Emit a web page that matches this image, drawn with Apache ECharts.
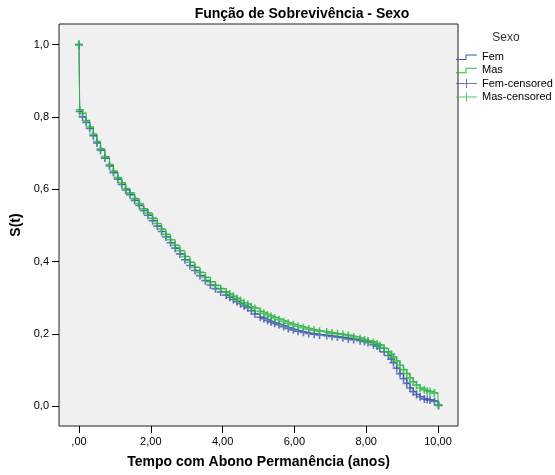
<!DOCTYPE html>
<html>
<head>
<meta charset="utf-8">
<script src="https://cdn.jsdelivr.net/npm/echarts@6/dist/echarts.min.js"></script>
<style>html,body{margin:0;padding:0;background:#fff;}#c{width:555px;height:475px;}</style>
</head>
<body>
<div id="c"></div>
<script>
var FONT = '"Liberation Sans", Arial, sans-serif';
var titleText = 'Função de Sobrevivência - Sexo';
var legendTitle = 'Sexo';
var xName = 'Tempo com Abono Permanência (anos)';
var yName = 'S(t)';
var seriesNames = ['Fem', 'Mas', 'Fem-censored', 'Mas-censored'];
var xTicks = [0, 2, 4, 6, 8, 10];
var yTicks = [0, 0.2, 0.4, 0.6, 0.8, 1.0];

// Fem (blue) Kaplan-Meier step points: time, survival
var femT = [0, 0.02, 0.10, 0.20, 0.30, 0.40, 0.50, 0.60, 0.72, 0.85, 0.96, 1.08, 1.19, 1.30, 1.42, 1.55, 1.68, 1.80, 1.92, 2.05, 2.18, 2.30, 2.42, 2.55, 2.68, 2.81, 2.95, 3.09, 3.23, 3.37, 3.52, 3.66, 3.80, 3.95, 4.10, 4.20, 4.30, 4.40, 4.50, 4.60, 4.70, 4.80, 4.90, 5.05, 5.15, 5.25, 5.35, 5.45, 5.57, 5.70, 5.83, 5.97, 6.10, 6.25, 6.40, 6.55, 6.70, 6.90, 7.05, 7.20, 7.35, 7.50, 7.65, 7.83, 7.95, 8.05, 8.20, 8.30, 8.38, 8.50, 8.62, 8.70, 8.76, 8.85, 8.94, 9.04, 9.13, 9.22, 9.31, 9.40, 9.50, 9.62, 9.70, 9.78, 9.90, 10.02];
var femS = [1.0, 0.815, 0.800, 0.785, 0.768, 0.748, 0.728, 0.708, 0.686, 0.664, 0.646, 0.628, 0.613, 0.598, 0.585, 0.569, 0.555, 0.541, 0.528, 0.513, 0.498, 0.483, 0.468, 0.452, 0.437, 0.421, 0.405, 0.389, 0.375, 0.361, 0.347, 0.335, 0.325, 0.316, 0.307, 0.301, 0.295, 0.289, 0.283, 0.277, 0.272, 0.264, 0.255, 0.246, 0.242, 0.237, 0.233, 0.229, 0.225, 0.220, 0.215, 0.211, 0.207, 0.204, 0.201, 0.199, 0.197, 0.195, 0.193, 0.191, 0.189, 0.186, 0.184, 0.181, 0.179, 0.176, 0.170, 0.166, 0.160, 0.150, 0.140, 0.130, 0.120, 0.105, 0.090, 0.076, 0.063, 0.050, 0.040, 0.032, 0.026, 0.020, 0.018, 0.017, 0.013, 0.002];

// Mas (green)
var masT = [0, 0.02, 0.10, 0.20, 0.30, 0.40, 0.50, 0.60, 0.72, 0.85, 0.96, 1.08, 1.19, 1.30, 1.42, 1.55, 1.68, 1.80, 1.92, 2.05, 2.18, 2.30, 2.42, 2.55, 2.68, 2.81, 2.95, 3.09, 3.23, 3.37, 3.52, 3.66, 3.80, 3.95, 4.10, 4.20, 4.30, 4.40, 4.50, 4.60, 4.70, 4.80, 4.90, 5.05, 5.15, 5.25, 5.35, 5.45, 5.57, 5.70, 5.83, 5.97, 6.10, 6.25, 6.40, 6.55, 6.70, 6.90, 7.05, 7.20, 7.35, 7.50, 7.65, 7.83, 7.95, 8.05, 8.20, 8.30, 8.38, 8.50, 8.62, 8.70, 8.76, 8.85, 8.94, 9.04, 9.13, 9.22, 9.31, 9.40, 9.50, 9.62, 9.70, 9.78, 9.90, 10.0];
var masS = [1.0, 0.820, 0.810, 0.790, 0.772, 0.752, 0.732, 0.712, 0.690, 0.668, 0.650, 0.632, 0.618, 0.602, 0.590, 0.574, 0.560, 0.546, 0.534, 0.520, 0.505, 0.490, 0.475, 0.460, 0.445, 0.430, 0.414, 0.398, 0.384, 0.370, 0.356, 0.344, 0.334, 0.325, 0.316, 0.310, 0.304, 0.298, 0.292, 0.286, 0.281, 0.275, 0.270, 0.262, 0.257, 0.252, 0.248, 0.244, 0.239, 0.234, 0.229, 0.225, 0.221, 0.217, 0.213, 0.210, 0.207, 0.205, 0.202, 0.200, 0.198, 0.195, 0.191, 0.187, 0.183, 0.180, 0.176, 0.172, 0.168, 0.160, 0.150, 0.143, 0.136, 0.125, 0.113, 0.101, 0.090, 0.078, 0.067, 0.058, 0.050, 0.045, 0.042, 0.040, 0.036, 0.004];

var BLUE = '#3E58AC', GREEN = '#2EB848';

function pairs(t, s) { return t.map(function (v, i) { return [v, s[i]]; }); }

var plusSym = 'path://M0,4H4V0H6V4H10V6H6V10H4V6H0Z';
var stepIcon = 'path://M0,0h0.01v0.01h-0.01Z M20.99,8.99h0.01v0.01h-0.01Z M0,6.5H9.5V2H21V3H10.5V7.5H0Z';
var plusIcon = 'path://M0,4H10V0H11V4H21V5H11V9H10V5H0Z';

var chart = echarts.init(document.getElementById('c'), null, { renderer: 'canvas' });
chart.setOption({
  animation: false,
  backgroundColor: '#ffffff',
  textStyle: { fontFamily: FONT },
  graphic: [
    { type: 'text', x: 302, y: 14, style: { text: titleText, textAlign: 'center', textVerticalAlign: 'middle', font: 'bold 14px ' + FONT, fill: '#000' } },
    { type: 'text', x: 506, y: 38, style: { text: legendTitle, textAlign: 'center', textVerticalAlign: 'middle', font: '12px ' + FONT, fill: '#333' } }
  ],
  grid: { left: 59, right: 97, top: 24, bottom: 49, show: true, backgroundColor: '#F0F0F0', borderColor: '#222', borderWidth: 1 },
  legend: {
    orient: 'vertical', left: 456, top: 51.5, padding: 0, itemWidth: 21, itemHeight: 9, itemGap: 2.3,
    symbolKeepAspect: false,
    itemStyle: { borderWidth: 0 },
    textStyle: { fontSize: 11, color: '#000', fontFamily: FONT, lineHeight: 9 },
    data: [
      { name: seriesNames[0], icon: stepIcon },
      { name: seriesNames[1], icon: stepIcon },
      { name: seriesNames[2], icon: plusIcon },
      { name: seriesNames[3], icon: plusIcon }
    ]
  },
  xAxis: {
    type: 'value', min: -0.557, max: 10.557,
    name: xName, nameLocation: 'middle', nameGap: 29,
    nameTextStyle: { fontSize: 14, fontWeight: 'bold', color: '#000', fontFamily: FONT },
    axisLine: { show: false, onZero: false },
    splitLine: { show: false },
    axisTick: { show: true, length: 7, customValues: xTicks, lineStyle: { color: '#000' } },
    axisLabel: { customValues: xTicks, fontSize: 11, color: '#000', margin: 10, fontFamily: FONT,
      formatter: function (v) { return v === 0 ? ',00' : v.toFixed(2).replace('.', ','); } }
  },
  yAxis: {
    type: 'value', min: -0.055, max: 1.057,
    name: yName, nameLocation: 'middle', nameGap: 30,
    nameTextStyle: { fontSize: 14, fontWeight: 'bold', color: '#000', fontFamily: FONT },
    axisLine: { show: false, onZero: false },
    splitLine: { show: false },
    axisTick: { show: true, length: 7, customValues: yTicks, lineStyle: { color: '#000' } },
    axisLabel: { customValues: yTicks, fontSize: 11, color: '#000', margin: 10, fontFamily: FONT,
      formatter: function (v) { return v.toFixed(1).replace('.', ','); } }
  },
  series: [
    { name: seriesNames[0], type: 'line', step: 'end', showSymbol: false, symbol: 'none', color: BLUE,
      lineStyle: { width: 1, color: BLUE }, data: pairs(femT, femS), z: 2 },
    { name: seriesNames[1], type: 'line', step: 'end', showSymbol: false, symbol: 'none', color: GREEN,
      lineStyle: { width: 1, color: GREEN }, data: pairs(masT, masS), z: 3 },
    { name: seriesNames[2], type: 'scatter', symbol: plusSym, symbolSize: 8, color: BLUE,
      itemStyle: { color: BLUE }, data: pairs(femT, femS), z: 4 },
    { name: seriesNames[3], type: 'scatter', symbol: plusSym, symbolSize: 8, color: GREEN,
      itemStyle: { color: GREEN }, data: pairs(masT, masS), z: 5 }
  ]
});
</script>
</body>
</html>
